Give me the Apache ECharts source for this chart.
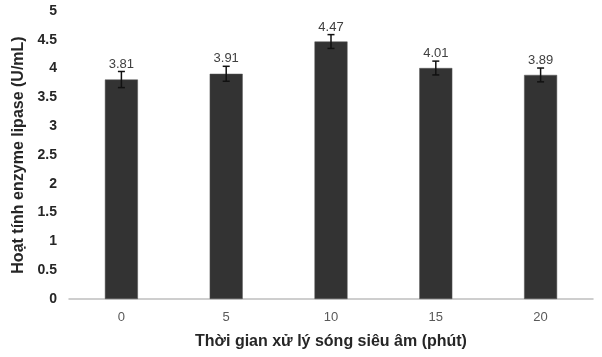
<!DOCTYPE html>
<html><head><meta charset="utf-8">
<script src="https://cdn.jsdelivr.net/npm/echarts@6/dist/echarts.min.js"></script>
<style>html,body{margin:0;padding:0;background:#fff}#c{width:602px;height:357px}</style>
</head><body><div id="c"></div>
<script>
const categories = ['0', '5', '10', '15', '20'];
const values = [3.81, 3.91, 4.47, 4.01, 3.89];
const errors = [0.14, 0.13, 0.12, 0.12, 0.12];
const yTicks = [0, 0.5, 1, 1.5, 2, 2.5, 3, 3.5, 4, 4.5, 5];

const chart = echarts.init(document.getElementById('c'));
const errData = values.map((v, i) => [i, v - errors[i], v + errors[i], v]);
chart.setOption({
  animation: false,
  grid: { left: 69, right: 9, top: 11, bottom: 58 },
  xAxis: {
    type: 'category', data: categories,
    axisLine: { lineStyle: { color: '#bfbfbf', width: 1.5 } },
    axisTick: { show: false },
    axisLabel: { color: '#595959', fontSize: 13, fontFamily: 'Liberation Sans', margin: 12 },
    name: 'Thời gian xử lý sóng siêu âm (phút)', nameLocation: 'middle', nameGap: 35,
    nameTextStyle: { color: '#262626', fontSize: 16, fontWeight: 'bold', fontFamily: 'Liberation Sans' }
  },
  yAxis: {
    type: 'value', min: 0, max: 5, interval: 0.5,
    splitLine: { show: false }, axisLine: { show: false }, axisTick: { show: false },
    axisLabel: { color: '#262626', fontSize: 14, fontWeight: 'bold', fontFamily: 'Liberation Sans', margin: 12,
      formatter: v => yTicks.includes(v) ? String(v) : '' },
    name: 'Hoạt tính enzyme lipase (U/mL)', nameLocation: 'middle', nameGap: 33, nameRotate: 90,
    nameTextStyle: { color: '#262626', fontSize: 16, fontWeight: 'bold', fontFamily: 'Liberation Sans' }
  },
  series: [
    {
      type: 'bar', data: values, barWidth: 33,
      itemStyle: { color: '#333333', borderColor: '#555555', borderWidth: 0.5 }
    },
    {
      type: 'custom', data: errData, z: 10,
      renderItem: function (params, api) {
        const x = api.coord([api.value(0), 0])[0];
        const lo = api.coord([api.value(0), api.value(1)])[1];
        const hi = api.coord([api.value(0), api.value(2)])[1];
        const w = 3.5;
        const st = { stroke: '#111', lineWidth: 1.5 };
        return {
          type: 'group',
          children: [
            { type: 'line', shape: { x1: x, y1: lo, x2: x, y2: hi }, style: st },
            { type: 'line', shape: { x1: x - w, y1: lo, x2: x + w, y2: lo }, style: st },
            { type: 'line', shape: { x1: x - w, y1: hi, x2: x + w, y2: hi }, style: st },
            { type: 'text', style: { text: api.value(3).toFixed(2), x: x, y: hi - 1,
              textAlign: 'center', textVerticalAlign: 'bottom', fill: '#404040',
              font: '13px "Liberation Sans"' } }
          ]
        };
      }
    }
  ]
});
</script></body></html>
